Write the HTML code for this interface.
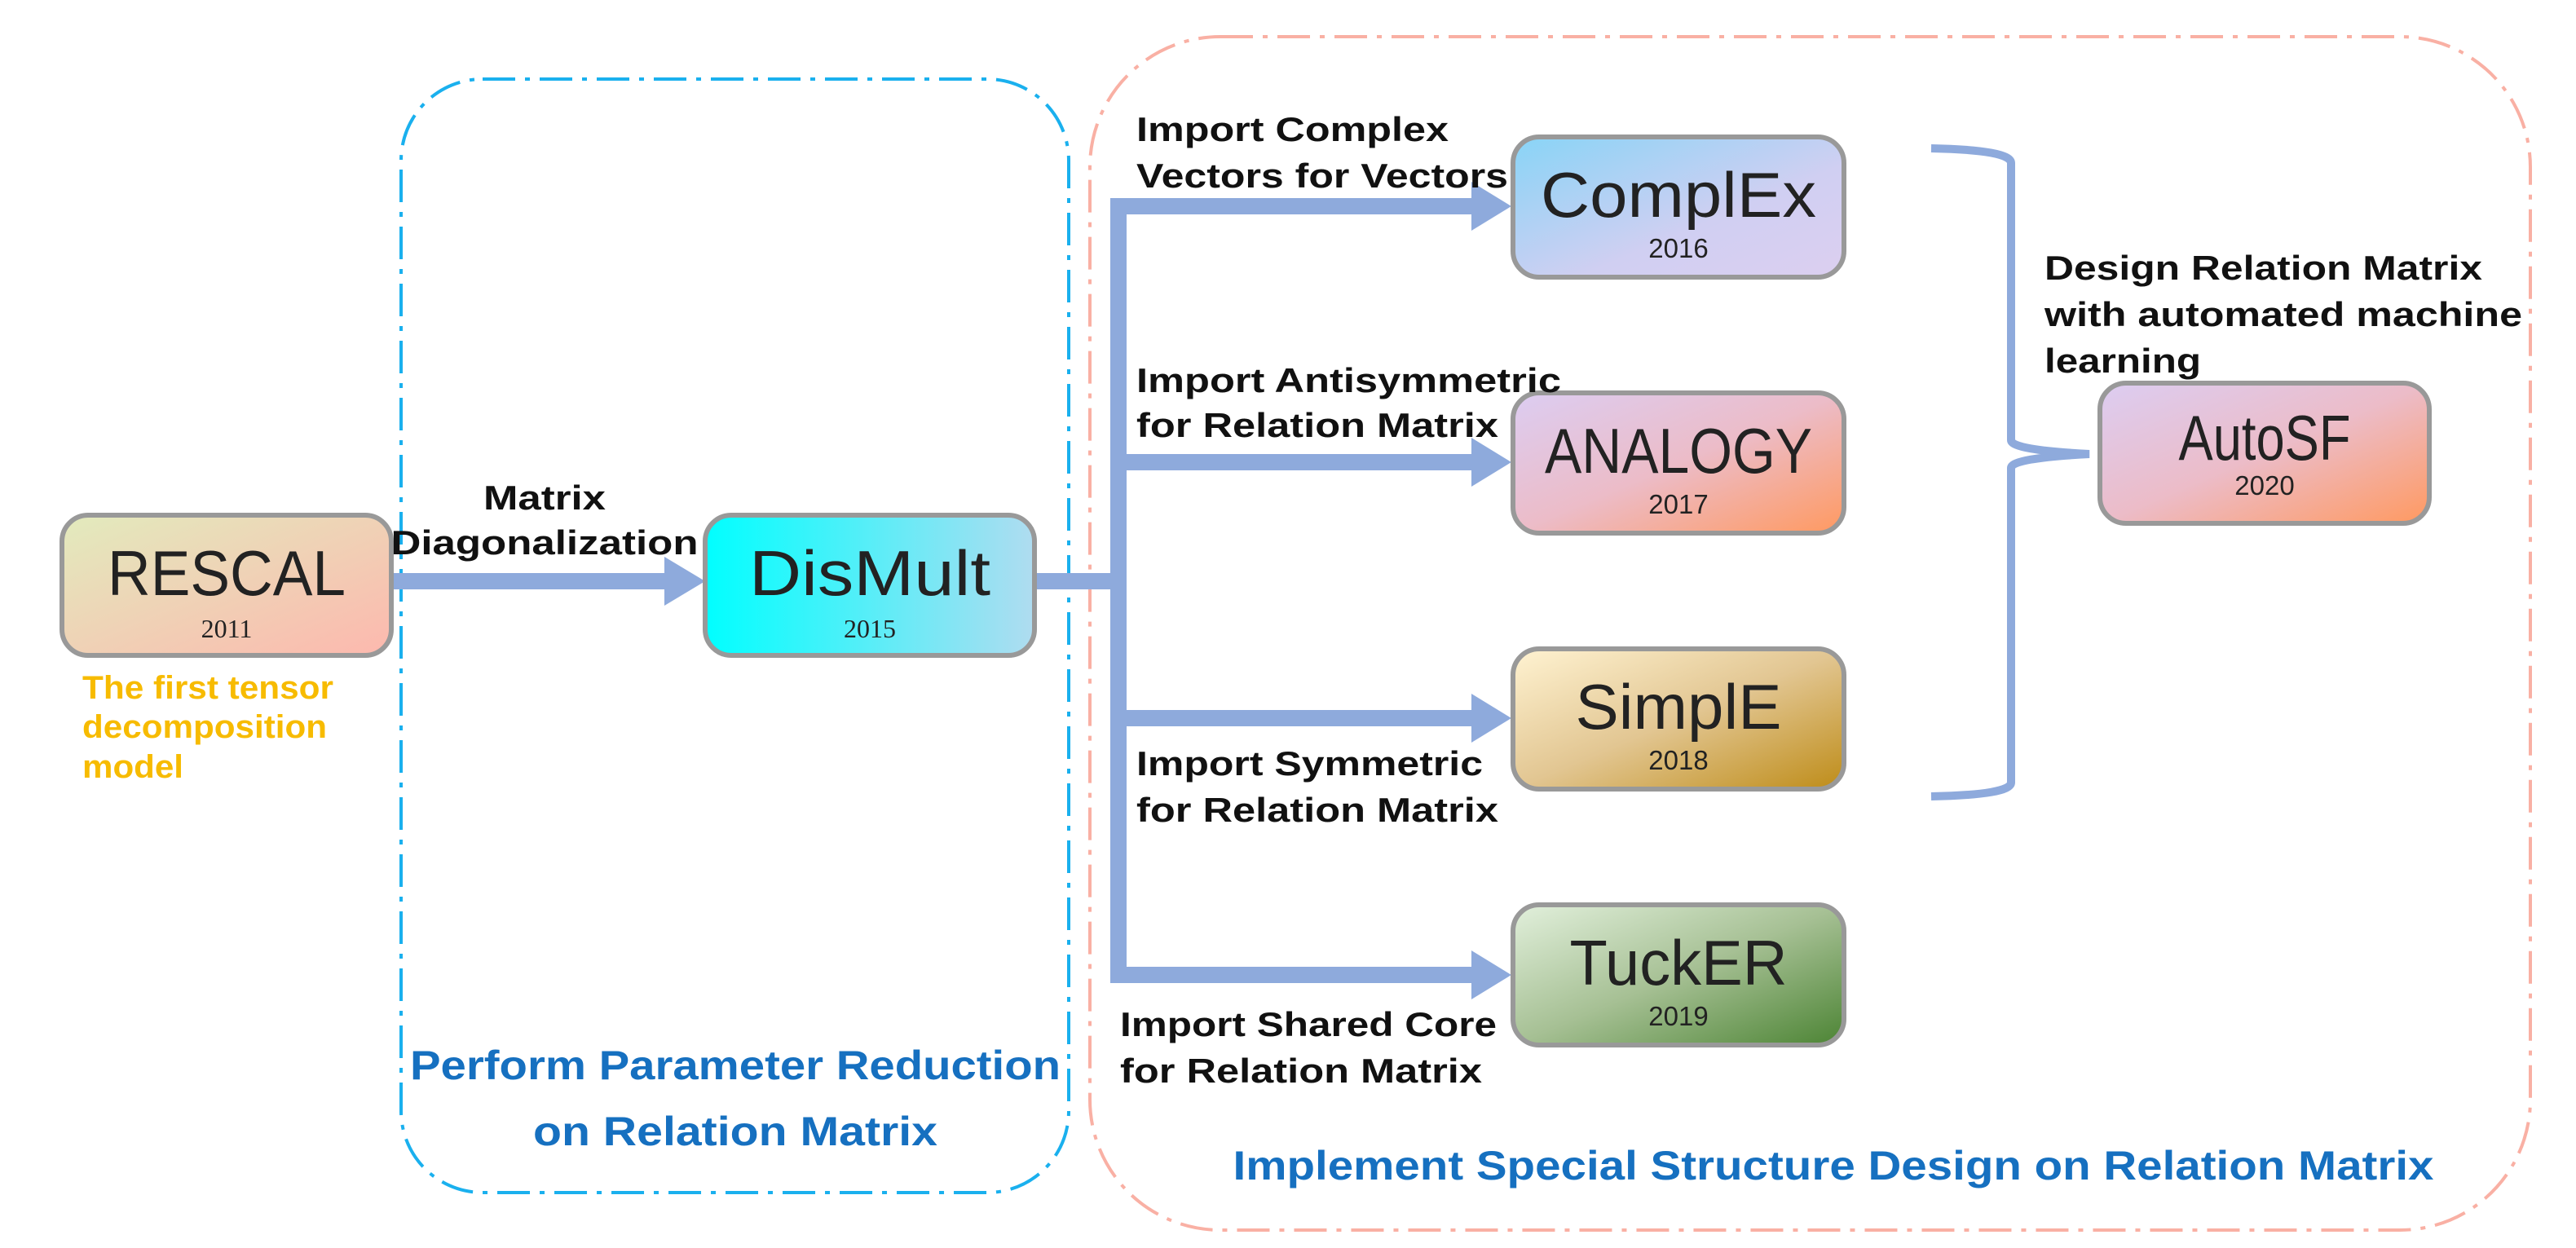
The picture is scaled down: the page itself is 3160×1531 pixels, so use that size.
<!DOCTYPE html>
<html><head><meta charset="utf-8"><style>html,body{margin:0;padding:0;background:#fff}svg{display:block}</style></head>
<body>
<svg width="3160" height="1531" viewBox="0 0 3160 1531" xmlns="http://www.w3.org/2000/svg" font-family="'Liberation Sans', sans-serif">
<defs>
<linearGradient id="gR" x1="0" y1="0" x2="1" y2="1"><stop offset="0" stop-color="#e2ebbd"/><stop offset="1" stop-color="#fdb8ae"/></linearGradient>
<linearGradient id="gD" x1="0" y1="0" x2="1" y2="0"><stop offset="0" stop-color="#00ffff"/><stop offset="1" stop-color="#b0dcf0"/></linearGradient>
<linearGradient id="gC" x1="0" y1="0" x2="1" y2="1"><stop offset="0" stop-color="#88d4f6"/><stop offset="0.6" stop-color="#d0cff2"/><stop offset="1" stop-color="#dccff0"/></linearGradient>
<linearGradient id="gA" x1="0" y1="0" x2="1" y2="1"><stop offset="0" stop-color="#dccdf2"/><stop offset="0.5" stop-color="#ecbcc8"/><stop offset="1" stop-color="#ff9960"/></linearGradient>
<linearGradient id="gS" x1="0" y1="0" x2="1" y2="1"><stop offset="0" stop-color="#fff3d2"/><stop offset="0.5" stop-color="#e2c692"/><stop offset="1" stop-color="#be8c18"/></linearGradient>
<linearGradient id="gT" x1="0" y1="0" x2="1" y2="1"><stop offset="0" stop-color="#e2f0dc"/><stop offset="0.5" stop-color="#a6c094"/><stop offset="1" stop-color="#4c8434"/></linearGradient>
</defs>

<rect x="492" y="97" width="819" height="1366" rx="100" fill="none" stroke="#1ab0ee" stroke-width="4" stroke-dasharray="40,12,6,12"/>
<rect x="1337" y="45" width="1767" height="1464" rx="160" fill="none" stroke="#f9b0a4" stroke-width="4" stroke-dasharray="40,12,6,12"/>

<g fill="#8eaadc" stroke="none">
<rect x="482" y="703" width="340" height="20"/>
<polygon points="815,683 865,713 815,743"/>
<rect x="1270" y="703" width="110" height="20"/>
<rect x="1362" y="243" width="20" height="963"/>
<rect x="1362" y="243" width="450" height="20"/><polygon points="1805,223 1854,253 1805,283"/>
<rect x="1362" y="557" width="450" height="20"/><polygon points="1805,537 1854,567 1805,597"/>
<rect x="1362" y="871" width="450" height="20"/><polygon points="1805,851 1854,881 1805,911"/>
<rect x="1362" y="1186" width="450" height="20"/><polygon points="1805,1166 1854,1196 1805,1226"/>
</g>
<path d="M2369,182 Q2467,184 2467,200 L2467,540 Q2467,552 2563,557 Q2467,562 2467,574 L2467,960 Q2467,975 2369,977" fill="none" stroke="#8eaadc" stroke-width="10"/>

<g stroke="#999" stroke-width="6">
<rect x="76" y="632" width="404" height="172" rx="32" fill="url(#gR)"/>
<rect x="865" y="632" width="404" height="172" rx="32" fill="url(#gD)"/>
<rect x="1856" y="168" width="406" height="172" rx="32" fill="url(#gC)"/>
<rect x="1856" y="482" width="406" height="172" rx="32" fill="url(#gA)"/>
<rect x="1856" y="796" width="406" height="172" rx="32" fill="url(#gS)"/>
<rect x="1856" y="1110" width="406" height="172" rx="32" fill="url(#gT)"/>
<rect x="2576" y="470" width="404" height="172" rx="32" fill="url(#gA)"/>
</g>
<g fill="#222" font-size="78" text-anchor="middle">
<text x="278" y="730" textLength="292" lengthAdjust="spacingAndGlyphs">RESCAL</text>
<text x="1067" y="730" textLength="296" lengthAdjust="spacingAndGlyphs">DisMult</text>
<text x="2059" y="266" textLength="338" lengthAdjust="spacingAndGlyphs">ComplEx</text>
<text x="2059" y="580" textLength="328" lengthAdjust="spacingAndGlyphs">ANALOGY</text>
<text x="2059" y="894" textLength="253" lengthAdjust="spacingAndGlyphs">SimplE</text>
<text x="2059" y="1208" textLength="267" lengthAdjust="spacingAndGlyphs">TuckER</text>
<text x="2778" y="564" textLength="211" lengthAdjust="spacingAndGlyphs">AutoSF</text>
</g>
<g fill="#222" font-size="32" text-anchor="middle" font-family="'Liberation Serif', serif">
<text x="278" y="782">2011</text>
<text x="1067" y="782">2015</text>
</g>
<g fill="#222" font-size="33" text-anchor="middle">
<text x="2059" y="316">2016</text>
<text x="2059" y="630">2017</text>
<text x="2059" y="944">2018</text>
<text x="2059" y="1258">2019</text>
<text x="2778" y="607">2020</text>
</g>

<g fill="#111" font-size="42" font-weight="bold">
<text x="668" y="625" text-anchor="middle" textLength="150" lengthAdjust="spacingAndGlyphs">Matrix</text>
<text x="668" y="680" text-anchor="middle" textLength="377" lengthAdjust="spacingAndGlyphs">Diagonalization</text>
<text x="1394" y="173" textLength="383" lengthAdjust="spacingAndGlyphs">Import Complex</text>
<text x="1394" y="230" textLength="456" lengthAdjust="spacingAndGlyphs">Vectors  for Vectors</text>
<text x="1394" y="481" textLength="521" lengthAdjust="spacingAndGlyphs">Import Antisymmetric</text>
<text x="1394" y="536" textLength="444" lengthAdjust="spacingAndGlyphs">for Relation Matrix</text>
<text x="1394" y="951" textLength="425" lengthAdjust="spacingAndGlyphs">Import Symmetric</text>
<text x="1394" y="1008" textLength="444" lengthAdjust="spacingAndGlyphs">for Relation Matrix</text>
<text x="1374" y="1271" textLength="462" lengthAdjust="spacingAndGlyphs">Import Shared Core</text>
<text x="1374" y="1328" textLength="444" lengthAdjust="spacingAndGlyphs">for Relation Matrix</text>
<text x="2508" y="343" textLength="537" lengthAdjust="spacingAndGlyphs">Design Relation Matrix</text>
<text x="2508" y="400" textLength="586" lengthAdjust="spacingAndGlyphs">with automated machine</text>
<text x="2508" y="457" textLength="192" lengthAdjust="spacingAndGlyphs">learning</text>
</g>
<g fill="#f7bb00" font-size="40" font-weight="bold">
<text x="101" y="857" textLength="308" lengthAdjust="spacingAndGlyphs">The first tensor</text>
<text x="101" y="905" textLength="300" lengthAdjust="spacingAndGlyphs">decomposition</text>
<text x="101" y="954" textLength="124" lengthAdjust="spacingAndGlyphs">model</text>
</g>
<g fill="#1670c0" font-size="50" font-weight="bold" text-anchor="middle">
<text x="902" y="1324" textLength="798" lengthAdjust="spacingAndGlyphs">Perform Parameter Reduction</text>
<text x="902" y="1405" textLength="496" lengthAdjust="spacingAndGlyphs">on Relation Matrix</text>
<text x="2249" y="1447" textLength="1473" lengthAdjust="spacingAndGlyphs">Implement Special Structure Design on Relation Matrix</text>
</g>
</svg>
</body></html>
